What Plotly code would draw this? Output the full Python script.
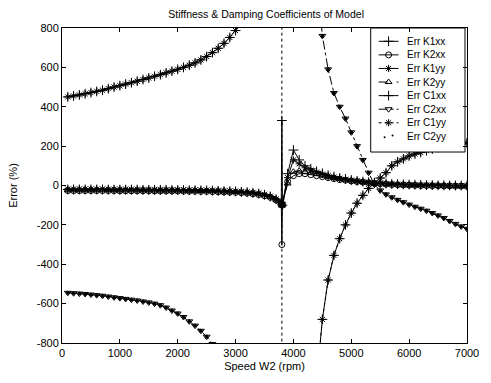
import plotly.graph_objects as go

# ---------------- data ----------------
speed_k = [100, 200, 300, 400, 500, 600, 700, 800, 900, 1000,
           1100, 1200, 1300, 1400, 1500, 1600, 1700, 1800, 1900, 2000,
           2100, 2200, 2300, 2400, 2500, 2600, 2700, 2800, 2900, 3000,
           3100, 3200, 3300, 3400, 3500, 3600, 3700, 3790, 3800, 3810, 3900, 4000,
           4100, 4200, 4300, 4400, 4500, 4600, 4700, 4800, 4900, 5000,
           5100, 5200, 5300, 5400, 5500, 5600, 5700, 5800, 5900, 6000,
           6100, 6200, 6300, 6400, 6500, 6600, 6700, 6800, 6900, 7000]

err_k1xx = [-20, -20, -20, -20, -20, -20, -20, -21, -21, -21,
            -21, -21, -21, -22, -22, -22, -22, -22, -23, -23,
            -23, -24, -24, -25, -25, -26, -27, -28, -29, -30,
            -32, -34, -37, -41, -47, -56, -70, -88, 330, -100, 60, 180,
            130, 100, 85, 72, 62, 52, 45, 38, 33, 28,
            24, 20, 17, 14, 12, 10, 8, 7, 6, 5,
            4, 3, 2, 2, 1, 1, 0, 0, 0, 0]
err_k2xx = [-26, -26, -26, -26, -26, -26, -26, -26, -26, -27,
            -27, -27, -27, -27, -27, -28, -28, -28, -28, -28,
            -29, -29, -29, -30, -30, -31, -32, -33, -34, -35,
            -37, -39, -42, -46, -52, -60, -74, -90, -300, -100, 20, 50,
            60, 60, 55, 50, 45, 40, 35, 30, 27, 23,
            20, 17, 14, 11, 9, 7, 5, 4, 3, 2,
            1, 0, 0, -1, -1, -2, -2, -3, -3, -4]
err_k1yy = [-18, -18, -18, -18, -18, -18, -18, -19, -19, -19,
            -19, -19, -19, -20, -20, -20, -20, -20, -21, -21,
            -21, -22, -22, -23, -23, -24, -25, -26, -27, -28,
            -30, -32, -35, -39, -45, -54, -68, -88, -98, -95, 40, 130,
            110, 90, 78, 68, 58, 50, 43, 37, 32, 27,
            23, 19, 16, 13, 11, 9, 7, 6, 5, 4,
            3, 2, 1, 1, 0, 0, 0, -1, -1, -1]
err_k2yy = [-24, -24, -24, -24, -24, -24, -24, -24, -24, -25,
            -25, -25, -25, -25, -25, -26, -26, -26, -26, -26,
            -27, -27, -27, -28, -28, -29, -30, -31, -32, -33,
            -35, -37, -40, -44, -50, -58, -72, -90, -102, -98, 10, 70,
            75, 70, 65, 58, 50, 44, 38, 33, 29, 25,
            21, 18, 15, 12, 10, 8, 6, 5, 4, 3,
            2, 1, 0, 0, -1, -1, -2, -2, -3, -3]

speed_c = [100, 200, 300, 400, 500, 600, 700, 800, 900, 1000,
           1100, 1200, 1300, 1400, 1500, 1600, 1700, 1800, 1900, 2000,
           2100, 2200, 2300, 2400, 2500, 2600, 2700, 2800, 2900, 3000,
           3100, 3200, 3300, 3400, 3500, 3600, 3700, 3790, 3810,
           4400, 4500, 4600, 4700, 4800, 4900, 5000,
           5100, 5200, 5300, 5400, 5500, 5600, 5700, 5800, 5900, 6000,
           6100, 6200, 6300, 6400, 6500, 6600, 6700, 6800, 6900, 7000]

err_c1xx = [450, 455, 460, 466, 472, 478, 484, 492, 500, 507,
            515, 522, 530, 538, 546, 555, 563, 572, 581, 590,
            600, 611, 623, 638, 655, 675, 697, 722, 752, 787,
            828, 880, 950, 1050, 1200, 1400, 1800, None, None,
            -1000, -680, -480, -355, -270, -200, -140,
            -90, -50, -15, 12, 38, 65, 100, 120, 135, 150,
            160, 168, 177, 185, 193, 200, 205, 210, 213, 217]
err_c1yy = [450, 455, 460, 466, 472, 478, 484, 492, 500, 507,
            515, 522, 530, 538, 546, 555, 563, 572, 581, 590,
            600, 611, 623, 638, 655, 675, 697, 722, 752, 787,
            828, 880, 950, 1050, 1200, 1400, 1800, 20000, -20000,
            -1000, -680, -480, -355, -270, -200, -140,
            -90, -50, -15, 12, 38, 65, 100, 120, 135, 150,
            160, 168, 177, 185, 193, 200, 205, 210, 213, 217]
err_c2xx = [-545, -547, -549, -551, -554, -557, -560, -564, -568, -572,
            -576, -580, -584, -589, -594, -600, -608, -620, -635, -650,
            -668, -690, -712, -738, -768, -805, -850, -905, -970, -1050,
            -1150, -1280, -1450, -1700, -2000, -2600, -3800, None, None,
            1100, 760, 590, 470, 400, 340, 270,
            200, 130, 65, 5, -25, -45, -60, -73, -85, -97,
            -108, -118, -128, -140, -152, -165, -180, -195, -208, -220]
err_c2yy = [-545, -547, -549, -551, -554, -557, -560, -564, -568, -572,
            -576, -580, -584, -589, -594, -600, -608, -620, -635, -650,
            -668, -690, -712, -738, -768, -805, -850, -905, -970, -1050,
            -1150, -1280, -1450, -1700, -2000, -2600, -3800, None, None,
            1100, 760, 590, 470, 400, 340, 270,
            200, 130, 65, 5, -25, -45, -60, -73, -85, -97,
            -108, -118, -128, -140, -152, -165, -180, -195, -208, -220]

x_ticks = [0, 1000, 2000, 3000, 4000, 5000, 6000, 7000]
y_ticks = [-800, -600, -400, -200, 0, 200, 400, 600, 800]

legend_names = ["Err K1xx", "Err K2xx", "Err K1yy", "Err K2yy",
                "Err C1xx", "Err C2xx", "Err C1yy", "Err C2yy"]

# ---------------- styles ----------------
FONT = "Arial, Liberation Sans, sans-serif"
styles = [
    dict(symbol="cross-thin-open", dash="solid", size=7),
    dict(symbol="circle-open", dash="solid", size=6),
    dict(symbol="asterisk-open", dash="solid", size=6),
    dict(symbol="triangle-up-open", dash="dash", size=6),
    dict(symbol="cross-thin-open", dash="solid", size=7),
    dict(symbol="triangle-down-open", dash="dashdot", size=6),
    dict(symbol="asterisk-open", dash="dot", size=6),
    dict(symbol="circle", dash=None, size=3),
]
data = [(speed_k, err_k1xx), (speed_k, err_k2xx), (speed_k, err_k1yy),
        (speed_k, err_k2yy), (speed_c, err_c1xx), (speed_c, err_c2xx),
        (speed_c, err_c1yy), (speed_c, err_c2yy)]

fig = go.Figure()
for name, (xs, ys), st in zip(legend_names, data, styles):
    mode = "markers" if st["dash"] is None else "lines+markers"
    fig.add_trace(go.Scatter(
        x=xs, y=ys, name=name, mode=mode, showlegend=False,
        line=dict(color="black", width=1, dash=st["dash"] or "solid"),
        marker=dict(symbol=st["symbol"], size=st["size"], color="black",
                    line=dict(color="black", width=1)),
    ))

# ---------------- hand-drawn legend on an overlay (pixel-unit) axis ----------------
LX0, LX1, LY0, LY1 = 373, 468, 28, 154
fig.add_trace(go.Scatter(
    x=[LX0, LX1, LX1, LX0, LX0], y=[LY0, LY0, LY1, LY1, LY0],
    xaxis="x2", yaxis="y2", mode="lines", fill="toself",
    fillcolor="white", line=dict(color="black", width=1),
    showlegend=False, hoverinfo="skip",
))
for i, (name, st) in enumerate(zip(legend_names, styles)):
    yy = 41.5 + 13.8 * i
    if st["dash"] is not None:
        fig.add_trace(go.Scatter(
            x=[381, 401], y=[yy, yy], xaxis="x2", yaxis="y2", mode="lines",
            line=dict(color="black", width=1, dash=st["dash"]),
            showlegend=False, hoverinfo="skip"))
        fig.add_trace(go.Scatter(
            x=[391], y=[yy], xaxis="x2", yaxis="y2", mode="markers",
            marker=dict(symbol=st["symbol"], size=st["size"], color="black",
                        line=dict(color="black", width=1)),
            showlegend=False, hoverinfo="skip"))
    else:
        fig.add_trace(go.Scatter(
            x=[387, 395], y=[yy + 1, yy - 1], xaxis="x2", yaxis="y2", mode="markers",
            marker=dict(symbol="circle", size=2, color="black"),
            showlegend=False, hoverinfo="skip"))

for i, name in enumerate(legend_names):
    yy = 41.5 + 13.8 * i
    fig.add_annotation(x=408, y=yy, xref="x2", yref="y2", text=name,
                       showarrow=False, xanchor="left", yanchor="middle",
                       font=dict(family=FONT, size=10, color="black"))

axis_common = dict(
    showgrid=False, zeroline=False, showline=True, linecolor="black",
    linewidth=1, mirror="allticks", ticks="inside", ticklen=4,
    tickcolor="black", tickfont=dict(family=FONT, size=11, color="black"),
)

fig.update_layout(
    xaxis=dict(range=[0, 7000], tickvals=x_ticks,
               ticktext=[str(v) for v in x_ticks],
               title=dict(text="Speed W2 (rpm)", standoff=4,
                          font=dict(family=FONT, size=11, color="black")),
               **axis_common),
    yaxis=dict(range=[-800, 800], tickvals=y_ticks,
               ticktext=[str(v) for v in y_ticks],
               title=dict(text="Error (%)", standoff=16,
                          font=dict(family=FONT, size=11, color="black")),
               **axis_common),
    xaxis2=dict(overlaying="x", range=[62, 470], visible=False, anchor="y2"),
    yaxis2=dict(overlaying="y", range=[348, 28], visible=False, anchor="x2"),
    width=491, height=383,
    margin=dict(l=62, r=21, t=28, b=35),
    paper_bgcolor="white", plot_bgcolor="white",
    title=dict(text="Stiffness & Damping Coefficients of Model",
               x=0.542, xanchor="center", y=0.972, yanchor="top",
               font=dict(family=FONT, size=10.5, color="black")),
    showlegend=False,
)

fig.write_html("out.html")
